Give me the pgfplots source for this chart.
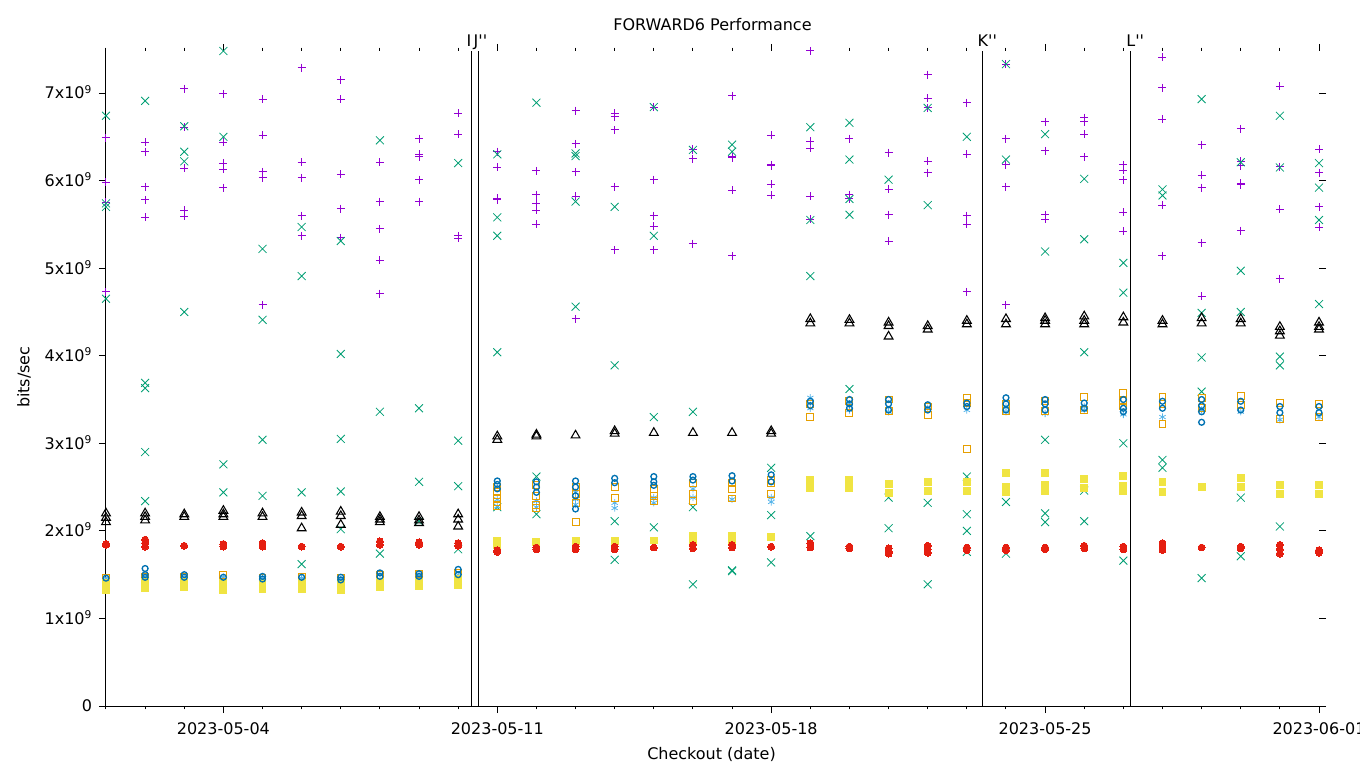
\documentclass[border=0pt]{standalone}
\usepackage{fontspec}
\setmainfont{DejaVu Sans}[Ligatures=TeXOff]
\usepackage{pgfplots}
\pgfplotsset{compat=1.18}
\definecolor{cP}{HTML}{9400D3}
\definecolor{cX}{HTML}{009E73}
\definecolor{cL}{HTML}{56B4E9}
\definecolor{cO}{HTML}{E69F00}
\definecolor{cY}{HTML}{F0E442}
\definecolor{cB}{HTML}{0072B2}
\definecolor{cR}{HTML}{E51E10}
\begin{document}
\begin{tikzpicture}
\path[use as bounding box] (-79.5pt,-46.5pt) rectangle (940.5pt,529.5pt);
\begin{axis}[
  scale only axis, width=909.75pt, height=491.25pt,
  xmin=0, xmax=31, ymin=0, ymax=7.48,
  axis line style={draw=none},
  tick align=outside,
  major tick length=5.4pt, minor tick length=2.6pt,
  every tick/.style={black, line width=0.75pt},
  xtick={3,10,17,24,31},
  xticklabels={2023-05-04,2023-05-11,2023-05-18,2023-05-25,2023-06-01},
  minor xtick={0,1,...,31},
  ytick={0,1,...,7},
  yticklabels={0,1x10\textsuperscript{9},2x10\textsuperscript{9},3x10\textsuperscript{9},4x10\textsuperscript{9},5x10\textsuperscript{9},6x10\textsuperscript{9},7x10\textsuperscript{9}},
  tick label style={font=\fontsize{12}{14}\selectfont},
  yticklabel style={anchor=base east, yshift=-4.4pt, xshift=-1.5pt},
  xticklabel style={yshift=-3.5pt},
  clip=false,
  title={FORWARD6 Performance},
  title style={at={(axis description cs:0.5,1.0198)}, anchor=base, font=\fontsize{12}{14}\selectfont},
  xlabel={Checkout (date)},
  xlabel style={at={(axis description cs:0.4992,-0.0824)}, anchor=base, font=\fontsize{12}{14}\selectfont},
  ylabel={bits/sec},
  ylabel style={at={(axis description cs:-0.0676,0.502)}, anchor=center, rotate=0, font=\fontsize{12}{14}\selectfont},
]
% purple +
\addplot[only marks, mark=+, draw=cP, mark size=3pt, line width=0.75pt] coordinates {
(0,6.49)(0,5.98)(0,5.75)(0,4.73)
(1,6.44)(1,6.33)(1,5.93)(1,5.78)(1,5.58)
(2,7.05)(2,6.61)(2,6.14)(2,5.66)(2,5.59)
(3,6.99)(3,6.44)(3,6.20)(3,6.13)(3,5.92)
(4,6.93)(4,6.52)(4,6.10)(4,6.03)(4,4.58)
(5,7.29)(5,6.21)(5,6.03)(5,5.60)(5,5.37)
(6,7.15)(6,6.93)(6,6.07)(6,5.68)(6,5.35)
(7,6.21)(7,5.76)(7,5.45)(7,5.09)(7,4.71)
(8,6.48)(8,6.30)(8,6.27)(8,6.01)(8,5.76)
(9,6.77)(9,6.53)(9,5.37)(9,5.34)
(10,6.33)(10,6.15)(10,5.80)(10,5.78)
(11,6.11)(11,5.84)(11,5.74)(11,5.66)(11,5.50)
(12,6.80)(12,6.42)(12,6.10)(12,5.82)(12,4.42)
(13,6.77)(13,6.73)(13,6.58)(13,5.93)(13,5.21)
(14,6.84)(14,6.01)(14,5.60)(14,5.48)(14,5.21)
(15,6.36)(15,6.35)(15,6.25)(15,5.28)
(16,6.97)(16,6.27)(16,6.26)(16,5.89)(16,5.14)
(17,6.52)(17,6.18)(17,6.17)(17,5.96)(17,5.83)
(18,7.48)(18,6.45)(18,6.37)(18,5.82)(18,5.56)
(19,6.48)(19,5.84)(19,5.79)
(20,6.32)(20,5.90)(20,5.61)(20,5.31)
(21,7.21)(21,6.94)(21,6.83)(21,6.22)(21,6.09)
(22,6.89)(22,6.30)(22,5.60)(22,5.50)(22,4.73)
(23,7.33)(23,6.48)(23,6.18)(23,5.93)(23,4.58)
(24,6.67)(24,6.34)(24,5.61)(24,5.56)
(25,6.72)(25,6.67)(25,6.53)(25,6.27)
(26,6.18)(26,6.12)(26,6.01)(26,5.64)(26,5.42)
(27,7.41)(27,7.06)(27,6.70)(27,5.72)(27,5.14)
(28,6.41)(28,6.06)(28,5.92)(28,5.29)(28,4.68)
(29,6.59)(29,6.22)(29,6.17)(29,5.97)(29,5.95)(29,5.43)
(30,7.08)(30,6.16)(30,5.67)(30,4.88)
(31,6.36)(31,6.09)(31,5.70)(31,5.47)
};
% teal x
\addplot[only marks, mark=x, draw=cX, mark size=4.2pt, line width=0.6pt] coordinates {
(0,6.74)(0,5.74)(0,5.70)(0,4.65)
(1,6.91)(1,3.69)(1,3.63)(1,2.90)(1,2.34)
(2,6.62)(2,6.33)(2,6.22)(2,4.50)
(3,7.48)(3,6.50)(3,2.76)(3,2.44)
(4,5.22)(4,4.41)(4,3.04)(4,2.40)
(5,5.47)(5,4.91)(5,2.44)(5,1.62)
(6,5.31)(6,4.02)(6,3.05)(6,2.45)(6,2.02)
(7,6.46)(7,3.36)(7,1.74)
(8,3.40)(8,2.56)(8,2.11)
(9,6.20)(9,3.03)(9,2.51)(9,1.79)
(10,6.30)(10,5.58)(10,5.37)(10,4.04)(10,2.27)
(11,6.89)(11,2.62)(11,2.19)
(12,6.31)(12,6.28)(12,5.76)(12,4.56)
(13,5.70)(13,3.89)(13,2.11)(13,1.67)
(14,6.84)(14,5.37)(14,3.30)(14,2.04)
(15,6.35)(15,3.36)(15,2.27)(15,1.39)
(16,6.41)(16,6.33)(16,1.54)(16,1.55)
(17,2.72)(17,2.18)(17,1.64)
(18,6.61)(18,5.55)(18,4.91)(18,1.94)
(19,6.66)(19,6.24)(19,5.79)(19,5.61)(19,3.62)
(20,6.01)(20,2.38)(20,2.03)
(21,6.83)(21,5.72)(21,2.32)(21,1.39)
(22,6.50)(22,2.62)(22,2.19)(22,2.00)(22,1.76)
(23,7.33)(23,6.24)(23,2.33)(23,1.74)
(24,6.53)(24,5.19)(24,3.04)(24,2.20)(24,2.10)
(25,6.02)(25,5.33)(25,4.04)(25,2.46)(25,2.11)
(26,5.06)(26,4.72)(26,3.00)(26,1.66)
(27,5.90)(27,5.83)(27,2.81)(27,2.72)
(28,6.93)(28,4.49)(28,3.98)(28,3.59)(28,1.46)
(29,6.21)(29,4.97)(29,4.50)(29,2.38)(29,1.71)
(30,6.74)(30,6.15)(30,3.99)(30,3.89)(30,2.05)
(31,6.20)(31,5.92)(31,5.55)(31,4.59)
};
% light blue asterisk
\addplot[only marks, mark=asterisk, draw=cL, mark size=2.7pt, line width=0.6pt] coordinates {
(0,1.46)(1,1.48)(2,1.47)(3,1.47)(4,1.47)(5,1.46)(6,1.45)(7,1.50)(8,1.49)(9,1.50)
(10,2.36)(10,2.28)(11,2.34)(11,2.27)(12,2.44)(12,2.36)(12,2.30)(13,2.32)(13,2.26)
(14,2.38)(14,2.32)(15,2.48)(15,2.38)(16,2.36)(17,2.38)(17,2.33)
(18,3.52)(18,3.40)(19,3.45)(19,3.38)(20,3.36)(21,3.40)(22,3.38)(23,3.42)(23,3.36)
(24,3.34)(25,3.42)(25,3.38)(26,3.33)(27,3.30)(28,3.38)(29,3.36)(30,3.27)(31,3.30)
};
% orange open squares
\addplot[only marks, mark=square, draw=cO, mark size=2.6pt, line width=0.75pt] coordinates {
(0,1.46)(1,1.47)(2,1.47)(3,1.50)(4,1.46)(5,1.47)(6,1.46)(7,1.50)(8,1.51)(9,1.52)
(10,2.50)(10,2.44)(10,2.38)(10,2.33)(10,2.28)
(11,2.52)(11,2.40)(11,2.30)(11,2.26)
(12,2.50)(12,2.42)(12,2.32)(12,2.10)
(13,2.50)(13,2.38)
(14,2.48)(14,2.40)(14,2.34)
(15,2.55)(15,2.42)(15,2.34)
(16,2.55)(16,2.48)(16,2.37)
(17,2.58)(17,2.55)(17,2.42)
(18,3.45)(18,3.30)(19,3.48)(19,3.35)(20,3.50)(20,3.37)(21,3.42)(21,3.32)
(22,3.52)(22,3.46)(22,2.93)(23,3.45)(23,3.37)(24,3.48)(24,3.37)(25,3.53)(25,3.38)
(26,3.57)(26,3.48)(26,3.42)(27,3.53)(27,3.45)(27,3.22)(28,3.52)(28,3.40)
(29,3.54)(29,3.44)(30,3.46)(30,3.28)(31,3.45)(31,3.30)
};
% yellow filled squares
\addplot[only marks, mark=square*, color=cY, mark size=2.6pt, line width=0pt] coordinates {
(0,1.40)(0,1.33)(1,1.42)(1,1.35)(2,1.42)(2,1.36)(3,1.40)(3,1.33)(4,1.40)(4,1.34)
(5,1.40)(5,1.34)(6,1.39)(6,1.33)(7,1.42)(7,1.36)(8,1.42)(8,1.37)(9,1.45)(9,1.38)
(10,1.88)(10,1.84)(11,1.87)(12,1.88)(13,1.88)(14,1.89)(15,1.94)(15,1.89)(16,1.94)(16,1.90)(17,1.93)
(18,2.58)(18,2.49)(19,2.58)(19,2.49)(20,2.53)(20,2.43)(21,2.56)(21,2.45)(22,2.56)(22,2.45)
(23,2.66)(23,2.50)(23,2.44)(24,2.66)(24,2.52)(24,2.46)(25,2.59)(25,2.49)
(26,2.63)(26,2.51)(26,2.45)(27,2.56)(27,2.44)(28,2.50)(29,2.60)(29,2.50)
(30,2.52)(30,2.42)(31,2.52)(31,2.42)
};
% blue open circles
\addplot[only marks, mark=o, draw=cB, mark size=2.2pt, line width=1pt] coordinates {
(0,1.46)(1,1.57)(1,1.50)(1,1.47)(2,1.50)(2,1.47)(3,1.47)(4,1.48)(4,1.45)(5,1.47)
(6,1.47)(6,1.44)(7,1.52)(7,1.48)(8,1.51)(8,1.48)(9,1.56)(9,1.50)
(10,2.57)(10,2.53)(10,2.48)(11,2.56)(11,2.50)(11,2.44)(12,2.57)(12,2.50)(12,2.40)(12,2.25)
(13,2.60)(13,2.55)(14,2.62)(14,2.56)(14,2.52)(15,2.62)(15,2.58)(16,2.63)(16,2.57)(17,2.64)(17,2.56)
(18,3.48)(18,3.43)(19,3.50)(19,3.45)(19,3.40)(20,3.50)(20,3.45)(20,3.38)(21,3.44)(21,3.38)
(22,3.46)(22,3.42)(23,3.52)(23,3.45)(23,3.38)(24,3.50)(24,3.45)(24,3.38)(25,3.46)(25,3.40)
(26,3.50)(26,3.40)(26,3.36)(27,3.48)(27,3.40)(28,3.50)(28,3.43)(28,3.36)(28,3.24)
(29,3.48)(29,3.38)(30,3.42)(30,3.35)(31,3.42)(31,3.35)
};
% red filled circles
\addplot[only marks, mark=*, color=cR, mark size=2.6pt, line width=0pt] coordinates {
(0,1.85)(0,1.84)(1,1.90)(1,1.86)(1,1.82)(2,1.83)(3,1.85)(3,1.82)(4,1.86)(4,1.82)
(5,1.82)(6,1.82)(7,1.88)(7,1.84)(8,1.87)(8,1.84)(9,1.86)(9,1.83)
(10,1.78)(10,1.76)(11,1.81)(11,1.79)(12,1.82)(12,1.79)(13,1.82)(13,1.79)(14,1.81)
(15,1.84)(15,1.80)(16,1.84)(16,1.81)(17,1.82)
(18,1.86)(18,1.81)(19,1.82)(19,1.80)(20,1.80)(20,1.76)(20,1.74)(21,1.83)(21,1.79)(21,1.75)
(22,1.81)(22,1.78)(23,1.81)(23,1.78)(24,1.81)(24,1.79)(25,1.83)(25,1.80)(26,1.82)(26,1.79)
(27,1.86)(27,1.82)(27,1.78)(28,1.81)(29,1.82)(29,1.80)(30,1.84)(30,1.79)(30,1.74)(31,1.78)(31,1.75)
};
% black open triangles
\addplot[only marks, mark=triangle, draw=black, mark size=3.8pt, line width=0.8pt] coordinates {
(0,2.20)(0,2.15)(0,2.10)(1,2.20)(1,2.16)(1,2.12)(2,2.19)(2,2.16)(3,2.23)(3,2.19)(3,2.16)
(4,2.20)(4,2.16)(5,2.21)(5,2.17)(5,2.03)(6,2.22)(6,2.17)(6,2.07)(7,2.16)(7,2.13)(7,2.10)
(8,2.16)(8,2.12)(8,2.09)(9,2.19)(9,2.13)(9,2.05)
(10,3.08)(10,3.04)(11,3.10)(11,3.08)(12,3.09)(13,3.14)(13,3.11)(14,3.12)(15,3.12)(16,3.12)(17,3.14)(17,3.11)
(18,4.42)(18,4.37)(19,4.41)(19,4.37)(20,4.38)(20,4.34)(20,4.22)(21,4.34)(21,4.30)
(22,4.40)(22,4.36)(23,4.42)(23,4.36)(24,4.43)(24,4.40)(24,4.36)(25,4.45)(25,4.40)(25,4.36)
(26,4.44)(26,4.38)(27,4.40)(27,4.36)(28,4.43)(28,4.37)(29,4.42)(29,4.37)
(30,4.33)(30,4.28)(30,4.23)(31,4.38)(31,4.33)(31,4.30)
};
% axis lines and markers
\draw[line width=0.75pt] (rel axis cs:0,1) -- (rel axis cs:0,0) -- (rel axis cs:1,0);
\draw[line width=0.8pt] (axis cs:9.33,0) -- (axis cs:9.33,7.48);
\draw[line width=0.8pt] (axis cs:9.51,0) -- (axis cs:9.51,7.48);
\draw[line width=0.8pt] (axis cs:22.39,0) -- (axis cs:22.39,7.48);
\draw[line width=0.8pt] (axis cs:26.19,0) -- (axis cs:26.19,7.48);
\node[anchor=base west, inner sep=0pt, font=\fontsize{12}{14}\selectfont] at ([xshift=-3.5pt,yshift=3.5pt]axis cs:9.33,7.48) {I};
\node[anchor=base west, inner sep=0pt, font=\fontsize{12}{14}\selectfont] at ([xshift=-3.5pt,yshift=3.5pt]axis cs:9.51,7.48) {J''};
\node[anchor=base west, inner sep=0pt, font=\fontsize{12}{14}\selectfont] at ([xshift=-3.5pt,yshift=3.5pt]axis cs:22.39,7.48) {K''};
\node[anchor=base west, inner sep=0pt, font=\fontsize{12}{14}\selectfont] at ([xshift=-3.5pt,yshift=3.5pt]axis cs:26.19,7.48) {L''};
\end{axis}
\end{tikzpicture}
\end{document}
